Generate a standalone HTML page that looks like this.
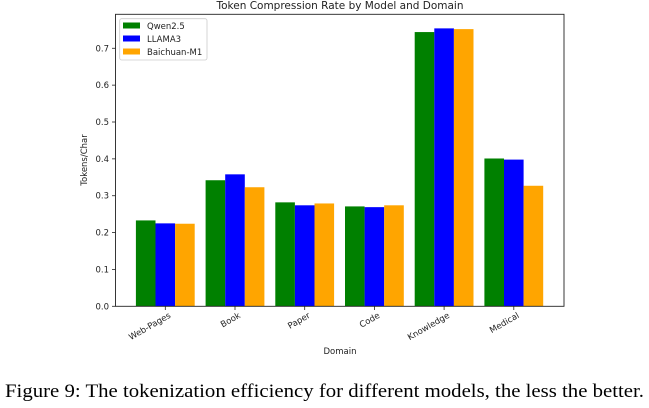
<!DOCTYPE html>
<html><head><meta charset="utf-8"><style>
body{margin:0;background:#fff;}
svg{display:block;font-family:"DejaVu Sans","Liberation Sans",sans-serif;}
</style></head><body>
<svg id="chart" width="649" height="408" viewBox="0 0 649 408">
<text x="340" y="9" font-size="10.5" text-anchor="middle" fill="#222">Token Compression Rate by Model and Domain</text>
<g id="bars"></g>
<g id="yaxis"></g>
<g id="xaxis"></g>
<rect x="115.5" y="14.3" width="448.5" height="292" fill="none" stroke="#222" stroke-width="0.9"/>
<text transform="translate(87,160) rotate(-90)" font-size="8.5" text-anchor="middle" fill="#222">Tokens/Char</text>
<text x="340" y="354" font-size="8.5" text-anchor="middle" fill="#222">Domain</text>
<g>
<rect x="119.7" y="18.7" width="87.3" height="41.3" fill="#fff" stroke="#ccc" stroke-width="0.8" rx="2"/>
<rect x="123" y="22.5" width="17" height="6" fill="#008000"/>
<text x="147" y="29" font-size="8.5" fill="#222">Qwen2.5</text>
<rect x="123" y="35.5" width="17" height="6" fill="#0000ff"/>
<text x="147" y="42" font-size="8.5" fill="#222">LLAMA3</text>
<rect x="123" y="48.5" width="17" height="6" fill="#ffa500"/>
<text x="147" y="55" font-size="8.5" fill="#222">Baichuan-M1</text>
</g>
<text x="5" y="397" font-size="18.5" textLength="639" lengthAdjust="spacingAndGlyphs" font-family="'Liberation Serif',serif" fill="#000">Figure 9: The tokenization efficiency for different models, the less the better.</text>
</svg>
<script>
const categories=["Web-Pages","Book","Paper","Code","Knowledge","Medical"];
const qwen=[0.233,0.342,0.282,0.271,0.744,0.401];
const llama=[0.225,0.358,0.274,0.269,0.754,0.398];
const baichuan=[0.224,0.323,0.279,0.274,0.752,0.327];
const yTicks=[0,0.1,0.2,0.3,0.4,0.5,0.6,0.7];
const yTickLabels=["0.0","0.1","0.2","0.3","0.4","0.5","0.6","0.7"];
const NS="http://www.w3.org/2000/svg";
const y0=306.3, pxPer=368.6;
function yS(v){return y0-v*pxPer;}
function xS(i){return 165.3+i*69.7;}
const bw=19.6;
const series=[[qwen,"#008000","qwen"],[llama,"#0000ff","llama"],[baichuan,"#ffa500","baichuan"]];
const gb=document.getElementById("bars");
series.forEach((s,si)=>{s[0].forEach((v,i)=>{
 const r=document.createElementNS(NS,"rect");
 r.setAttribute("x",xS(i)+(si-1.5)*bw);r.setAttribute("width",bw);
 r.setAttribute("y",yS(v));r.setAttribute("height",y0-yS(v));
 r.setAttribute("fill",s[1]);
 
 
 gb.appendChild(r);});});
const gy=document.getElementById("yaxis");
yTicks.forEach((t,i)=>{
 const l=document.createElementNS(NS,"line");
 l.setAttribute("x1",112);l.setAttribute("x2",115.5);l.setAttribute("y1",yS(t));l.setAttribute("y2",yS(t));l.setAttribute("stroke","#222");l.setAttribute("stroke-width","0.8");
 
 
 gy.appendChild(l);
 const tx=document.createElementNS(NS,"text");
 tx.setAttribute("x",109);tx.setAttribute("y",yS(t)+3);tx.setAttribute("font-size","8.5");tx.setAttribute("text-anchor","end");tx.setAttribute("fill","#222");
 tx.textContent=yTickLabels[i];
 
 
 gy.appendChild(tx);});
const gx=document.getElementById("xaxis");
categories.forEach((c,i)=>{
 const x=xS(i);
 const l=document.createElementNS(NS,"line");
 l.setAttribute("x1",x);l.setAttribute("x2",x);l.setAttribute("y1",306.3);l.setAttribute("y2",310);l.setAttribute("stroke","#222");l.setAttribute("stroke-width","0.8");
 
 
 gx.appendChild(l);
 const tx=document.createElementNS(NS,"text");
 tx.setAttribute("transform","translate("+(x+6)+",317) rotate(-30)");
 tx.setAttribute("font-size","8.5");tx.setAttribute("text-anchor","end");tx.setAttribute("fill","#222");
 tx.textContent=c;
 
 
 gx.appendChild(tx);});
</script>
</body></html>
